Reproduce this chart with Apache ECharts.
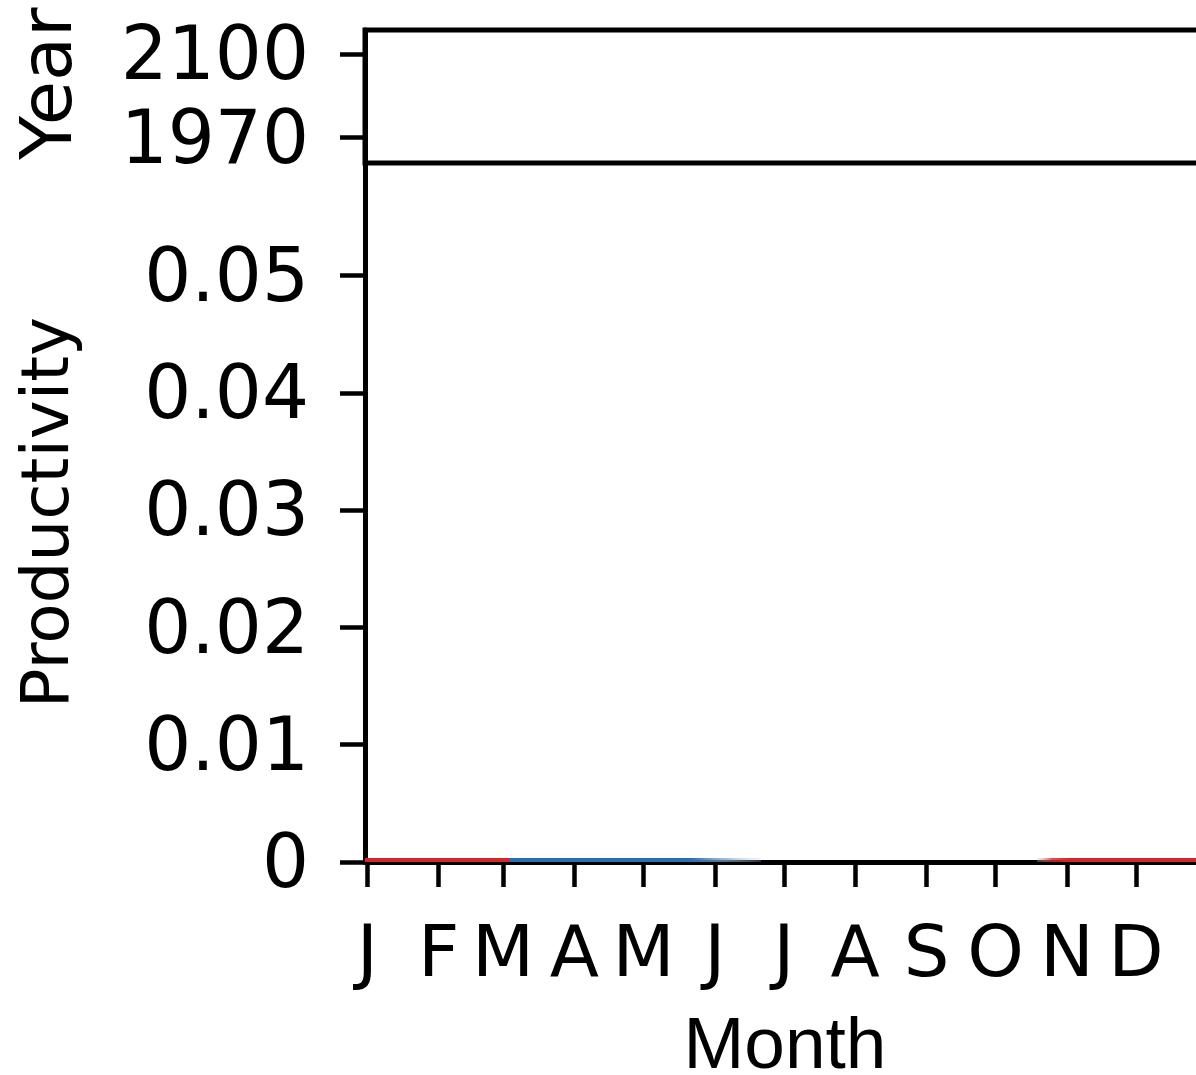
<!DOCTYPE html>
<html>
<head>
<meta charset="utf-8">
<script src="https://cdn.jsdelivr.net/npm/echarts@6/dist/echarts.min.js"></script>
<style>html,body{margin:0;padding:0;background:#fff}#c{width:1196px;height:1075px}</style>
</head>
<body>
<div id="c"></div>
<script>
// Month ticks (day of year) and labels
const monthTickDays = [1, 32, 60, 91, 121, 152, 182, 213, 244, 274, 305, 335];
const monthLabels = ['J', 'F', 'M', 'A', 'M', 'J', 'J', 'A', 'S', 'O', 'N', 'D'];
// Productivity y ticks
const prodTicks = [0, 0.01, 0.02, 0.03, 0.04, 0.05];
// Year ticks of the top panel
const yearTicks = [1970, 2100];

// Near-zero productivity segments
const redEarlyDays = [0, 20, 40, 63];
const redEarlyVals = [0.00018, 0.00018, 0.00018, 0.00018];
const blueDays = [63, 90, 120, 150, 172];
const blueVals = [0.00018, 0.00018, 0.00018, 0.00018, 0.00018];
const redLateDays = [292, 310, 330, 365];
const redLateVals = [0.00018, 0.00018, 0.00018, 0.00018];

const pair = (xs, ys) => xs.map((x, i) => [x, ys[i]]);
const G = echarts.graphic.LinearGradient;

const chart = echarts.init(document.getElementById('c'), null, {renderer: 'canvas'});
const black = '#000';
const LW = 5;
const richShift = {t: {padding: [12, 0, 0, 0], fontSize: 74, fontFamily: 'DejaVu Sans', color: black}};
chart.setOption({
  animation: false,
  textStyle: {fontFamily: 'DejaVu Sans', color: black},
  grid: [
    {left: 365, top: 30, width: 840, height: 133, show: true, borderColor: black, borderWidth: LW,
     backgroundColor: '#fff', outerBoundsMode: 'none', containLabel: false},
    {left: 365, top: 163, width: 840, height: 699, outerBoundsMode: 'none', containLabel: false}
  ],
  xAxis: [
    {gridIndex: 0, type: 'value', min: 0, max: 365, show: false},
    {gridIndex: 1, type: 'value', min: 0, max: 365,
     axisLine: {show: true, onZero: false, lineStyle: {color: black, width: LW}},
     axisTick: {show: true, customValues: monthTickDays, length: 25, lineStyle: {color: black, width: 4.5}},
     axisLabel: {show: true, customValues: monthTickDays, formatter: v => monthLabels[monthTickDays.indexOf(v)],
                 fontSize: 72, color: black, margin: 59, fontFamily: 'DejaVu Sans'},
     splitLine: {show: false},
     name: 'Month', nameLocation: 'middle', nameGap: 149,
     nameTextStyle: {fontFamily: 'Liberation Sans', fontSize: 73, color: black}}
  ],
  yAxis: [
    {gridIndex: 0, type: 'value', min: 1930.5, max: 2137,
     axisLine: {show: true, lineStyle: {color: black, width: LW}},
     axisTick: {show: true, customValues: yearTicks, length: 25, lineStyle: {color: black, width: 4.5}},
     axisLabel: {show: true, customValues: yearTicks, formatter: v => '{t|' + String(v) + '}', fontSize: 74, color: black,
                 margin: 56, fontFamily: 'DejaVu Sans', rich: richShift},
     splitLine: {show: false},
     name: 'Year', nameLocation: 'middle', nameGap: 277, nameRotate: 90,
     nameTextStyle: {fontFamily: 'DejaVu Sans', fontSize: 72, color: black, padding: [0, 0, 0, 26]}},
    {gridIndex: 1, type: 'value', min: 0, max: 0.0596,
     axisLine: {show: true, lineStyle: {color: black, width: LW}},
     axisTick: {show: true, customValues: prodTicks, length: 25, lineStyle: {color: black, width: 4.5}},
     axisLabel: {show: true, customValues: prodTicks, fontSize: 74, color: black, margin: 56,
                 formatter: v => '{t|' + (v === 0 ? '0' : v.toFixed(2)) + '}', fontFamily: 'DejaVu Sans', rich: richShift},
     splitLine: {show: false},
     name: 'Productivity', nameLocation: 'middle', nameGap: 281, nameRotate: 90,
     nameTextStyle: {fontFamily: 'DejaVu Sans', fontSize: 66, color: black}}
  ],
  series: [
    {type: 'line', xAxisIndex: 1, yAxisIndex: 1, data: pair(redEarlyDays, redEarlyVals), symbol: 'none',
     lineStyle: {color: '#d62728', width: 4}, z: 3},
    {type: 'line', xAxisIndex: 1, yAxisIndex: 1, data: pair(blueDays, blueVals), symbol: 'none',
     lineStyle: {width: 4, color: new G(0, 0, 1, 0, [
       {offset: 0, color: '#2c6fae'}, {offset: 0.72, color: '#2c6fae'},
       {offset: 0.85, color: 'rgba(120,160,205,0.7)'}, {offset: 1, color: 'rgba(200,215,235,0.2)'}])}, z: 3},
    {type: 'line', xAxisIndex: 1, yAxisIndex: 1, data: pair(redLateDays, redLateVals), symbol: 'none',
     lineStyle: {width: 4, color: new G(0, 0, 1, 0, [
       {offset: 0, color: 'rgba(220,225,240,0.2)'}, {offset: 0.1, color: 'rgba(214,39,40,0.8)'},
       {offset: 0.2, color: '#d62728'}, {offset: 1, color: '#d62728'}])}, z: 3}
  ]
});
</script>
</body>
</html>
